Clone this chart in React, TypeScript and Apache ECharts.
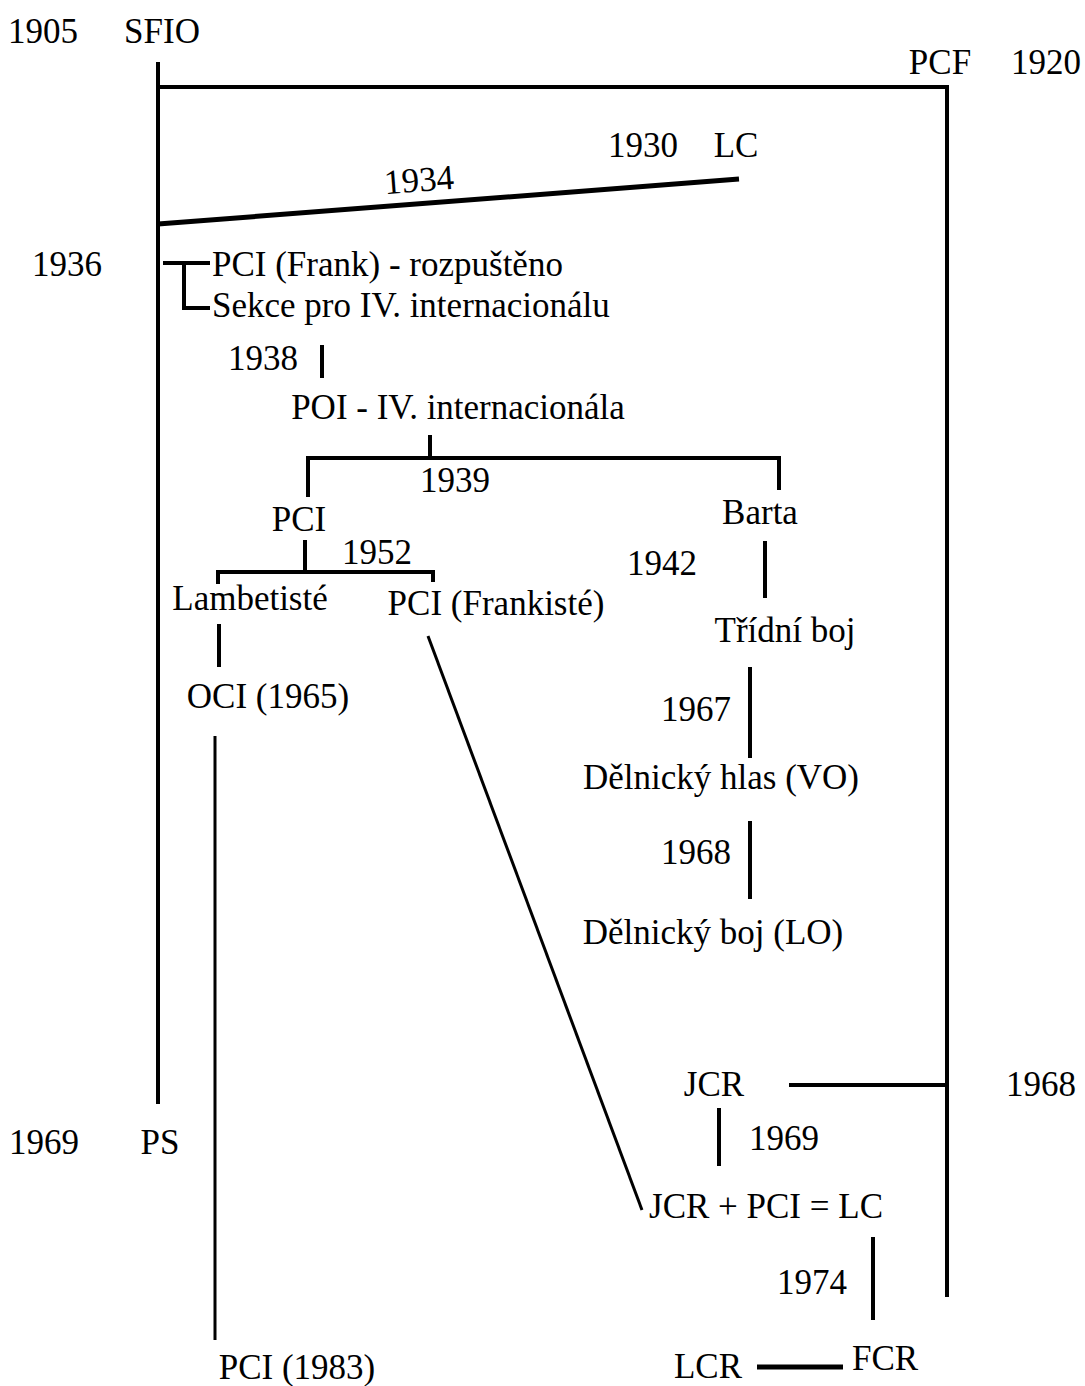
import React, { useEffect, useRef } from "react";
import * as echarts from "echarts";

// Diagram coordinate space (matches the picture: 1085 x 1386, y downward)
const W = 1085;
const H = 1386;

// Party / organisation names and their anchor positions
const partyNames = [
  "SFIO", "PCF", "LC", "PCI (Frank) - rozpuštěno", "Sekce pro IV. internacionálu",
  "POI - IV. internacionála", "PCI", "Barta", "Lambetisté", "PCI (Frankisté)",
  "Třídní boj", "OCI (1965)", "Dělnický hlas (VO)", "Dělnický boj (LO)", "JCR",
  "PS", "JCR + PCI = LC", "PCI (1983)", "LCR", "FCR",
];
const partyX = [162, 940, 736, 212, 212, 458, 299, 760, 250, 496, 785, 268, 721, 713, 714, 160, 766, 297, 708, 885];
const partyY = [31, 62, 145, 264, 305, 407, 519, 512, 598, 603, 630, 696, 777, 932, 1084, 1142, 1206, 1367, 1366, 1358];
const partyAlign = ["center", "center", "center", "left", "left", "center", "center", "center", "center", "center", "center", "center", "center", "center", "center", "center", "center", "center", "center", "center"];

// Year labels
const years = ["1905", "1920", "1930", "1934", "1936", "1938", "1939", "1952", "1942", "1967", "1968", "1968", "1969", "1969", "1974"];
const yearX = [43, 1046, 643, 419, 67, 263, 455, 377, 662, 696, 696, 1041, 44, 784, 812];
const yearY = [31, 62, 145, 180, 264, 358, 480, 552, 563, 709, 852, 1084, 1142, 1138, 1282];
const yearRotation = [0, 0, 0, 0.077, 0, 0, 0, 0, 0, 0, 0, 0, 0, 0, 0];

// Connecting segments [x1, y1, x2, y2, width]
const links = [
  [158, 62, 158, 1104, 4],
  [156, 87, 949, 87, 4],
  [947, 87, 947, 1297, 4],
  [158, 224, 739, 179, 5],
  [163, 263, 210, 263, 4],
  [184, 263, 184, 310, 4],
  [184, 308, 210, 308, 4],
  [322, 345, 322, 378, 4],
  [430, 435, 430, 458, 4],
  [306, 458, 781, 458, 4],
  [308, 458, 308, 497, 4],
  [779, 458, 779, 490, 4],
  [305, 540, 305, 572, 4],
  [216, 572, 435, 572, 4],
  [218, 572, 218, 584, 4],
  [433, 572, 433, 582, 4],
  [765, 541, 765, 598, 4],
  [219, 624, 219, 667, 4],
  [428, 636, 642, 1210, 3],
  [750, 667, 750, 758, 4],
  [750, 821, 750, 899, 4],
  [215, 736, 215, 1340, 3],
  [789, 1085, 947, 1085, 4],
  [719, 1108, 719, 1166, 4],
  [873, 1237, 873, 1320, 4],
  [757, 1367, 843, 1367, 5],
];

const FONT = "'Liberation Serif', 'Times New Roman', serif";
const FONT_SIZE = 35;

export default function App() {
  const ref = useRef<HTMLDivElement>(null);

  useEffect(() => {
    if (!ref.current) return;
    const chart = echarts.init(ref.current, undefined, { renderer: "svg" });

    const textItems: any[] = [];
    partyNames.forEach((name, i) => {
      textItems.push({ label: name, x: partyX[i], y: partyY[i], align: partyAlign[i], rot: 0 });
    });
    years.forEach((yr, i) => {
      textItems.push({ label: yr, x: yearX[i], y: yearY[i], align: "center", rot: yearRotation[i] });
    });

    chart.setOption({
      animation: false,
      backgroundColor: "#ffffff",
      grid: { left: 0, right: 0, top: 0, bottom: 0 },
      xAxis: { type: "value", min: 0, max: W, show: false },
      yAxis: { type: "value", min: 0, max: H, inverse: true, show: false },
      series: [
        {
          type: "custom",
          coordinateSystem: "cartesian2d",
          clip: false,
          silent: true,
          data: links.map((l, i) => [l[0], l[1], l[2], l[3], i]),
          encode: { x: [0, 2], y: [1, 3] },
          renderItem: (params: any, api: any) => {
            const idx = api.value(4);
            const l = links[idx];
            const p1 = api.coord([l[0], l[1]]);
            const p2 = api.coord([l[2], l[3]]);
            return {
              type: "line",
              shape: { x1: p1[0], y1: p1[1], x2: p2[0], y2: p2[1] },
              style: { stroke: "#000000", lineWidth: l[4], lineCap: "butt" },
            };
          },
        },
        {
          type: "custom",
          coordinateSystem: "cartesian2d",
          clip: false,
          silent: true,
          data: textItems.map((t, i) => [t.x, t.y, i]),
          encode: { x: 0, y: 1 },
          renderItem: (params: any, api: any) => {
            const t = textItems[api.value(2)];
            const p = api.coord([t.x, t.y]);
            return {
              type: "text",
              x: p[0],
              y: p[1],
              rotation: t.rot,
              style: {
                text: t.label,
                fontFamily: FONT,
                fontSize: FONT_SIZE,
                fill: "#000000",
                align: t.align,
                verticalAlign: "middle",
              },
            };
          },
        },
      ],
    });

    return () => chart.dispose();
  }, []);

  return (
    <div
      ref={ref}
      style={{ position: "absolute", left: 0, top: 0, width: W, height: H, background: "#ffffff" }}
    />
  );
}
